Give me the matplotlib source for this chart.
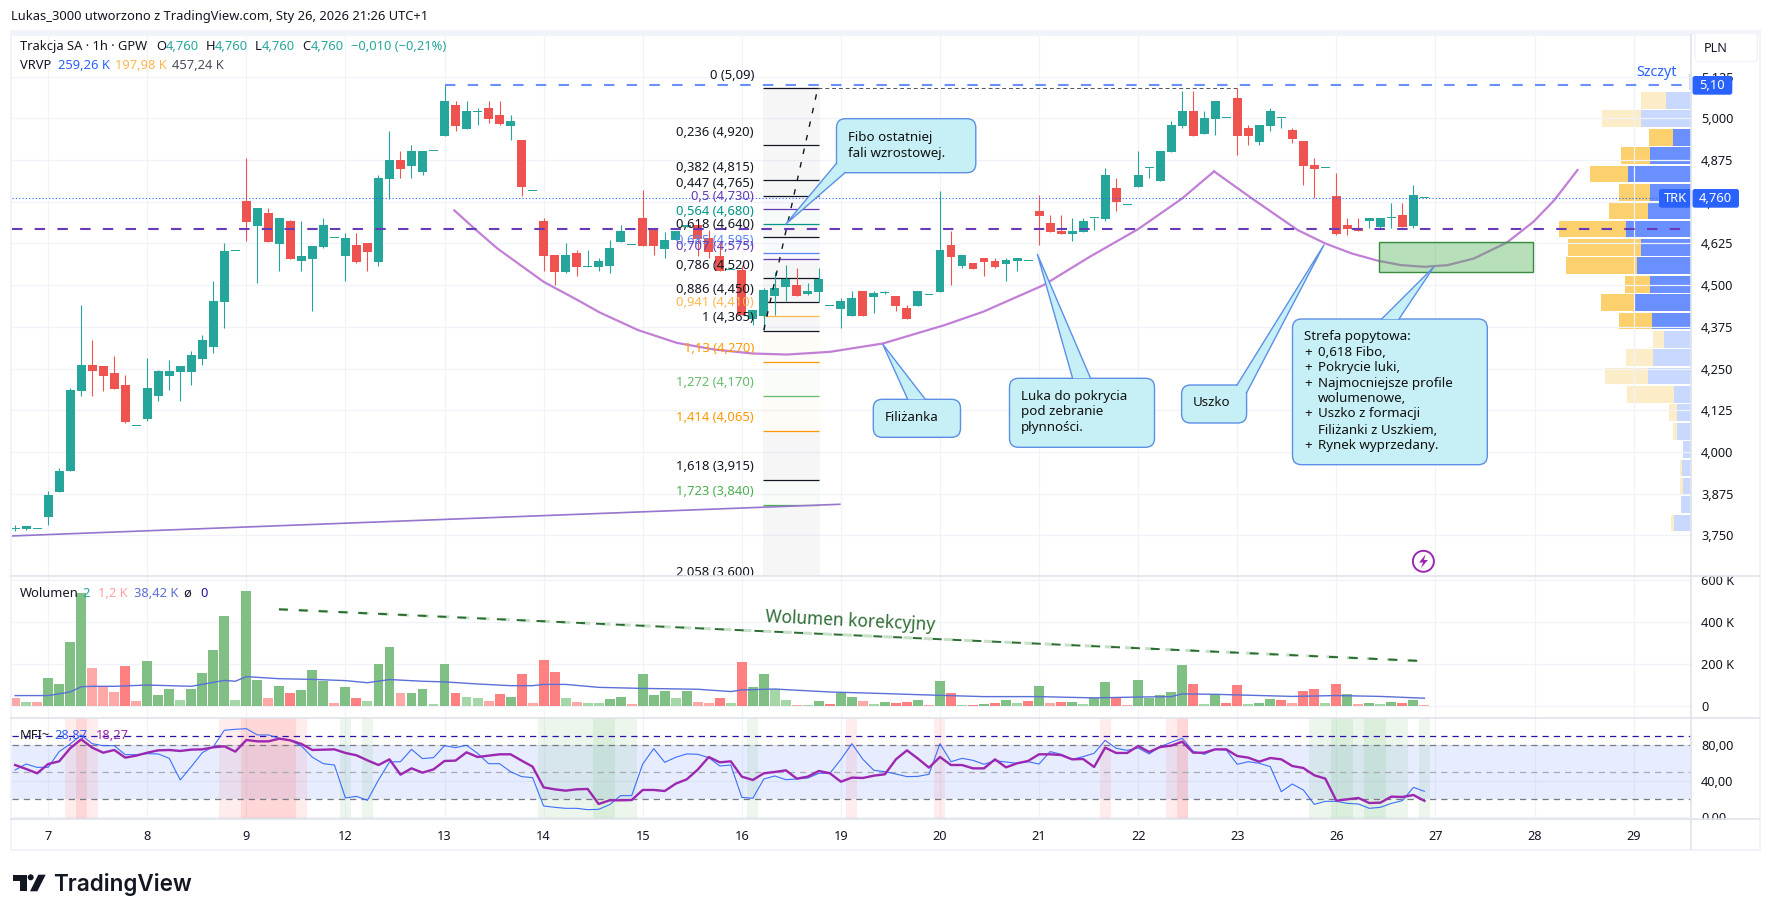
import numpy as np
import matplotlib
matplotlib.use("Agg")
import matplotlib.pyplot as plt
from matplotlib.patches import FancyBboxPatch, Polygon, Rectangle, Circle

plt.rcParams['font.family'] = ['Noto Sans', 'DejaVu Sans']

W, H = 1772, 916

# ---- data ----
bars = np.arange(-3, 126)

opens = [3.770, 3.768, 3.770,
         3.804, 3.879, 3.942, 4.182, 4.260, 4.257, 4.236, 4.200, 4.079,
         4.098, 4.167, 4.227, 4.239, 4.239, 4.278, 4.314, 4.449, 4.601,
         4.752, 4.677, 4.716, 4.623, 4.692, 4.572, 4.578, 4.614, 4.640,
         4.587, 4.620, 4.626, 4.569, 4.818, 4.875, 4.857, 4.839, 4.901,
         4.947, 5.040, 4.968, 5.020, 5.031, 5.010, 4.977, 4.935, 4.781,
         4.691, 4.590, 4.539, 4.596, 4.554, 4.554, 4.557, 4.629, 4.619,
         4.701, 4.668, 4.608, 4.635, 4.675, 4.680, 4.641, 4.587, 4.545,
         4.545, 4.400, 4.407, 4.467, 4.495, 4.500, 4.473, 4.480, 4.438,
         4.428, 4.407, 4.482, 4.464, 4.476, 4.467, 4.431, 4.437, 4.469,
         4.479, 4.620, 4.557, 4.566, 4.581, 4.572, 4.563, 4.572, 4.571,
         4.722, 4.686, 4.662, 4.653, 4.659, 4.700, 4.698, 4.791, 4.739,
         4.794, 4.850, 4.812, 4.899, 4.977, 5.022, 4.953, 4.998, 5.000,
         5.061, 4.971, 4.929, 4.977, 5.000, 4.965, 4.932, 4.860, 4.850,
         4.767, 4.680, 4.671, 4.692, 4.674, 4.700, 4.710, 4.677, 4.760]
closes = [3.770, 3.777, 3.770,
          3.870, 3.942, 4.185, 4.260, 4.242, 4.227, 4.188, 4.089, 4.079,
          4.191, 4.242, 4.242, 4.257, 4.290, 4.335, 4.452, 4.602, 4.601,
          4.689, 4.731, 4.629, 4.701, 4.578, 4.587, 4.617, 4.680, 4.640,
          4.641, 4.569, 4.599, 4.821, 4.875, 4.848, 4.902, 4.902, 4.901,
          5.052, 4.977, 5.022, 5.022, 4.998, 4.983, 4.992, 4.794, 4.781,
          4.587, 4.539, 4.590, 4.554, 4.557, 4.572, 4.611, 4.662, 4.619,
          4.617, 4.617, 4.635, 4.662, 4.680, 4.638, 4.599, 4.542, 4.545,
          4.410, 4.425, 4.485, 4.490, 4.519, 4.467, 4.482, 4.519, 4.438,
          4.452, 4.461, 4.407, 4.476, 4.476, 4.437, 4.398, 4.482, 4.469,
          4.605, 4.584, 4.590, 4.548, 4.569, 4.554, 4.575, 4.581, 4.571,
          4.707, 4.659, 4.653, 4.662, 4.692, 4.700, 4.830, 4.749, 4.739,
          4.830, 4.850, 4.902, 4.980, 5.022, 4.947, 5.001, 5.052, 5.000,
          4.947, 4.947, 4.980, 5.022, 5.000, 4.938, 4.857, 4.848, 4.850,
          4.653, 4.668, 4.662, 4.701, 4.701, 4.700, 4.674, 4.770, 4.760]
highs = [3.780, 3.777, 3.770,
         3.882, 3.951, 4.191, 4.440, 4.335, 4.257, 4.287, 4.230, 4.079,
         4.281, 4.245, 4.275, 4.257, 4.302, 4.350, 4.512, 4.626, 4.601,
         4.881, 4.731, 4.731, 4.701, 4.695, 4.692, 4.617, 4.701, 4.640,
         4.656, 4.656, 4.626, 4.830, 4.962, 4.902, 4.920, 4.902, 4.901,
         5.100, 5.052, 5.052, 5.031, 5.052, 5.052, 5.010, 4.935, 4.781,
         4.701, 4.590, 4.626, 4.605, 4.605, 4.581, 4.635, 4.680, 4.619,
         4.785, 4.668, 4.660, 4.662, 4.680, 4.680, 4.665, 4.625, 4.545,
         4.560, 4.425, 4.490, 4.540, 4.560, 4.552, 4.507, 4.550, 4.438,
         4.461, 4.482, 4.482, 4.482, 4.482, 4.467, 4.440, 4.482, 4.469,
         4.782, 4.662, 4.590, 4.566, 4.581, 4.581, 4.581, 4.581, 4.571,
         4.770, 4.710, 4.710, 4.701, 4.701, 4.700, 4.851, 4.821, 4.739,
         4.902, 4.850, 4.902, 4.992, 5.082, 5.082, 5.022, 5.052, 5.000,
         5.091, 4.980, 4.980, 5.031, 5.000, 4.971, 4.932, 4.881, 4.850,
         4.836, 4.701, 4.701, 4.701, 4.701, 4.746, 4.746, 4.800, 4.760]
lows = [3.763, 3.765, 3.770,
        3.780, 3.879, 3.942, 4.167, 4.167, 4.182, 4.188, 4.086, 4.079,
        4.092, 4.152, 4.185, 4.152, 4.200, 4.260, 4.296, 4.371, 4.601,
        4.632, 4.506, 4.629, 4.542, 4.578, 4.542, 4.422, 4.611, 4.640,
        4.512, 4.566, 4.542, 4.557, 4.758, 4.821, 4.821, 4.830, 4.901,
        4.947, 4.962, 4.968, 4.980, 4.986, 4.980, 4.935, 4.767, 4.781,
        4.542, 4.500, 4.536, 4.527, 4.554, 4.542, 4.536, 4.629, 4.619,
        4.617, 4.590, 4.581, 4.635, 4.675, 4.587, 4.581, 4.542, 4.545,
        4.410, 4.380, 4.365, 4.410, 4.452, 4.467, 4.470, 4.450, 4.438,
        4.371, 4.407, 4.407, 4.416, 4.473, 4.422, 4.398, 4.437, 4.469,
        4.479, 4.500, 4.551, 4.548, 4.527, 4.551, 4.512, 4.542, 4.571,
        4.620, 4.659, 4.653, 4.632, 4.659, 4.665, 4.692, 4.722, 4.739,
        4.794, 4.821, 4.812, 4.899, 4.971, 4.947, 4.953, 4.950, 5.000,
        4.890, 4.920, 4.920, 4.962, 4.971, 4.926, 4.800, 4.761, 4.850,
        4.650, 4.650, 4.662, 4.671, 4.668, 4.671, 4.674, 4.671, 4.760]

# volume in thousands, with the tint of each bar
volumes = [40, 21, 21,
           135, 106, 305, 538, 182, 93, 68, 192, 25,
           215, 54, 82, 30, 82, 158, 268, 429, 30,
           548, 125, 40, 97, 63, 78, 173, 120, 16,
           92, 40, 25, 201, 282, 63, 63, 82, 11,
           201, 63, 44, 40, 25, 59, 44, 154, 16,
           220, 163, 40, 21, 16, 16, 35, 44, 11,
           154, 54, 73, 40, 73, 21, 16, 40, 16,
           211, 92, 154, 82, 30, 6, 6, 25, 11,
           63, 44, 25, 11, 21, 16, 21, 30, 6,
           120, 63, 6, 6, 11, 16, 30, 16, 25,
           97, 16, 21, 21, 11, 40, 116, 40, 6,
           125, 40, 54, 68, 196, 106, 11, 54, 16,
           101, 11, 16, 35, 30, 16, 73, 82, 16,
           106, 59, 11, 16, 11, 21, 16, 30, 6]
vol_tints = ("plp"
             "ggggpppRp".replace("R", "r") +
             "gggl" "ggggl" +
             "ggpgrgggp" +
             "grlggpggl" +
             "grllprgrp" +
             "rrlpllggp" +
             "gggl" "gpprl" +
             "rggllplgr" +
             "ggplgrrgp" +
             "grlrgrglr" +
             "gprglggrp" +
             "gggggrlgr" +
             "rlggrprrl" +
             "rgpglgrgp")

vol_ma_bars = [-3, 0, 2, 3, 4, 6, 9, 13, 16, 17, 18, 21, 24, 27, 29, 31, 34, 36, 39, 42, 44, 45, 47, 50,
               54, 59, 62, 63, 66, 71, 75, 81, 85, 90, 95, 99, 102, 103, 106, 108, 113, 117, 121, 125]
vol_ma = [51, 51, 68, 93, 95, 95, 101, 95, 123, 119, 141, 131, 128, 122, 112, 127, 119, 116, 106, 98, 98, 104, 104, 90,
          85, 81, 70, 78, 82, 68, 62, 52, 46, 46, 40, 44, 46, 59, 57, 54, 47, 51, 47, 38.4]

rsi_line = [52.6, 59.2, 55.5,
            55.5, 73.0, 81.5, 91.5, 81.8, 79.6, 79.6, 69.6, 69.6,
            70.7, 70.4, 65.5, 41.5, 56.3, 71.8, 78.5, 96.7, 97.8,
            98.5, 91.5, 91.5, 87.8, 85.2, 79.2, 66.7, 59.6, 58.1,
            21.5, 23.3, 18.9, 41.5, 61.5, 61.8, 75.5, 65.2, 66.3,
            79.6, 77.4, 80.0, 71.1, 59.6, 59.6, 50.7, 45.2, 44.1,
            12.6, 11.1, 10.0, 10.0, 8.5, 8.9, 14.1, 24.1, 24.1,
            59.2, 76.3, 61.1, 66.7, 70.4, 70.0, 66.3, 57.0, 58.1,
            22.2, 21.1, 42.6, 45.9, 41.8, 42.6, 43.7, 48.9, 48.9,
            64.4, 81.8, 64.4, 52.2, 50.7, 48.1, 45.2, 45.5, 47.8,
            81.8, 61.8, 65.5, 63.3, 58.9, 62.9, 61.5, 60.0, 61.8,
            59.2, 73.0, 70.0, 64.4, 67.4, 71.1, 85.5, 76.7, 74.4,
            77.0, 70.4, 78.5, 83.3, 87.8, 73.3, 70.0, 75.5, 74.8,
            58.9, 61.8, 60.0, 56.3, 28.5, 37.0, 30.4, 14.4, 17.8,
            17.8, 15.5, 14.8, 10.0, 11.1, 15.5, 18.5, 33.3, 28.9]
mfi_line = [58.1, 53.7, 48.9,
            59.2, 62.2, 76.7, 86.6, 77.4, 71.8, 74.8, 66.3, 68.5,
            71.8, 74.4, 74.8, 73.7, 75.2, 75.5, 77.8, 78.9, 73.0,
            85.9, 84.4, 84.4, 87.4, 85.5, 81.5, 74.8, 75.2, 75.5,
            71.5, 68.9, 63.3, 58.1, 64.4, 47.4, 54.4, 49.6, 53.3,
            62.6, 63.0, 72.2, 67.0, 68.5, 70.0, 70.0, 63.0, 56.3,
            33.3, 31.1, 29.6, 31.1, 31.5, 14.8, 18.9, 18.9, 19.2,
            30.4, 30.4, 29.2, 37.4, 42.2, 53.0, 67.0, 61.1, 62.2,
            45.2, 41.5, 48.9, 50.4, 52.2, 43.0, 45.2, 51.5, 48.9,
            39.6, 44.1, 43.7, 46.3, 47.8, 64.4, 74.4, 65.2, 55.2,
            67.0, 58.1, 58.1, 54.4, 54.4, 64.4, 55.5, 60.0, 62.6,
            70.0, 70.0, 69.2, 64.4, 64.8, 55.9, 77.4, 71.5, 71.5,
            79.2, 72.6, 78.1, 79.6, 84.0, 71.8, 71.8, 75.5, 75.5,
            68.1, 66.3, 61.8, 65.9, 64.4, 57.0, 54.8, 46.7, 43.0,
            18.5, 20.0, 21.5, 15.9, 16.3, 23.0, 22.6, 24.8, 18.3]

# bars where the pane is tinted, two layers each
red_light = [2, 3, 4, 16, 17, 18, 19, 20, 21, 22, 23, 73, 81, 96, 102, 103]
red_dark = [3, 18, 19, 20, 21, 22, 103]
green_light = [27, 29, 45, 46, 47, 48, 49, 50, 51, 52, 53, 64, 115, 116, 117, 118, 119, 120, 121, 122, 123, 125]
green_dark = [50, 51, 117, 118, 120, 121]

# volume profile rows, top to bottom, thousands
vp_up = [0.6, 8.2, 16.2, 6.0, 13.4, 20.5, 13.4, 14.0, 21.2, 16.2, 17.6, 13.4, 18.6,
         12.8, 8.8, 12.4, 14.0, 5.6, 4.6, 4.6, 2.7, 3.0, 2.7, 3.3, 5.6]
vp_down = [0, 8.1, 12.6, 7.7, 9.4, 12.4, 10.0, 12.6, 21.7, 23.7, 22.9, 8.1, 10.7,
           10.7, 3.6, 8.8, 13.9, 15.3, 2.6, 1.4, 0, 0.6, 0.9, 0, 1.0]
vp_solid = [False, False, False, True, True, True, True, True, True, True, True, True, True,
            True, False, False, False, False, False, False, False, False, False, False, False]

fib_ratio = ["0", "0,236", "0,382", "0,447", "0,5", "0,564", "0,618", "0,685", "0,707", "0,786",
             "0,886", "0,941", "1", "1,13", "1,272", "1,414", "1,618", "1,723", "2,058"]
fib_label = ["5,09", "4,920", "4,815", "4,765", "4,730", "4,680", "4,640", "4,595", "4,575", "4,520",
             "4,450", "4,410", "4,365", "4,270", "4,170", "4,065", "3,915", "3,840", "3,600"]
fib_price = [5.09, 4.919, 4.814, 4.766, 4.727, 4.682, 4.643, 4.595, 4.577, 4.520,
             4.448, 4.409, 4.364, 4.271, 4.169, 4.064, 3.917, 3.842, 3.600]
fib_color = ["#131722", "#131722", "#131722", "#131722", "#673AB7", "#009688", "#131722", "#5B86F7", "#673AB7", "#131722",
             "#131722", "#FFB74D", "#131722", "#FF9800", "#66BB6A", "#FF9800", "#131722", "#4CAF50", "#131722"]

cup_bars = [36.9, 38.7, 40.8, 45.0, 48.1, 50.1, 53.6, 57.1, 60.5, 64.0, 67.1, 71.0, 75.8,
            81.4, 84.9, 90.4, 94.6, 99.0, 103.0, 104.6, 105.9]
cup_price = [4.724, 4.670, 4.610, 4.510, 4.455, 4.418, 4.365, 4.327, 4.307, 4.295, 4.292, 4.300, 4.325,
             4.380, 4.420, 4.500, 4.585, 4.668, 4.760, 4.805, 4.841]
ear_bars = [105.9, 109.2, 113.5, 116.0, 118.4, 120.8, 122.9, 125.0, 127.1, 129.5, 132.5, 134.9, 136.8, 138.9]
ear_price = [4.841, 4.763, 4.665, 4.625, 4.595, 4.573, 4.560, 4.555, 4.560, 4.580, 4.628, 4.690, 4.755, 4.845]

day_ticks = [0, 9, 18, 27, 36, 45, 54, 63, 72, 81, 90, 99, 108, 117, 126, 135, 144]
day_labels = ["7", "8", "9", "12", "13", "14", "15", "16", "19", "20", "21", "22", "23", "26", "27", "28", "29"]
price_ticks = [3.75, 3.875, 4.0, 4.125, 4.25, 4.375, 4.5, 4.625, 4.75, 4.875, 5.0, 5.125, 5.25]
price_labels = ["3,750", "3,875", "4,000", "4,125", "4,250", "4,375", "4,500", "4,625", "4,750", "4,875", "5,000", "5,125", ""]

GREEN = "#26A69A"
RED = "#EF5350"
GRID = "#F0F3FA"
SEP = "#E0E3EB"
TXT = "#131722"
BLUE = "#2962FF"
TINT = {"g": "#81C084", "l": "#A5D6A7", "r": "#FF8080", "p": "#FFA8A8"}


def pane(top, bottom, left=11.5, right=1691.3):
    return fig.add_axes([left / W, 1 - bottom / H, (right - left) / W, (bottom - top) / H])


fig = plt.figure(figsize=(W / 100, H / 100), dpi=100, facecolor="white")

ax = pane(35, 576)
ax_vol = pane(576, 718.3)
ax_mfi = pane(718.3, 819.3)

XLIM = (-3.33, 149.24)
for a in (ax, ax_vol, ax_mfi):
    a.set_xlim(*XLIM)
    a.set_xticks(day_ticks)
    a.tick_params(axis="both", length=0, labelsize=9.2, labelcolor=TXT)
    a.grid(True, color=GRID, lw=0.9)
    a.set_axisbelow(True)
    a.yaxis.tick_right()
    a.tick_params(axis="y", pad=7)
    for s in a.spines.values():
        s.set_visible(False)
    if a is not ax_mfi:
        a.set_xticklabels([])
ax_mfi.set_xticklabels(day_labels)
ax_mfi.tick_params(axis="x", pad=8)
for lab in ax_mfi.get_xticklabels():
    if lab.get_text() in ("12", "26"):
        lab.set_fontweight("bold")

# ---- price pane ----
ax.set_ylim(3.628, 5.249)
ax.set_yticks(price_ticks)
ax.set_yticklabels(price_labels)
ax.set_zorder(3)
ax.patch.set_visible(False)

# volume profile sits behind the candles, anchored on the price scale
ax_vp = ax.twiny()
ax_vp.set_zorder(2)
ax_vp.set_xlim(544.3, 0)
ax_vp.axis("off")
ax_under = fig.add_axes(ax.get_position(), zorder=1)
ax_under.axis("off")
row_step = 0.0551
vp_center = 5.109 - row_step * np.arange(len(vp_up))
vp_up = np.array(vp_up)
vp_down = np.array(vp_down)
for c, u, d, solid in zip(vp_center, vp_up, vp_down, vp_solid):
    ax_vp.barh(c, u, height=0.05, color="#6A8FFF" if solid else "#C9D8FE", lw=0)
    ax_vp.barh(c, d, left=u, height=0.05, color="#FCD06C" if solid else "#FDECC8", lw=0)

# fib block
fib_x0, fib_x1 = 64.9, 70.0
for i in range(1, len(fib_price)):
    ax.fill_between([fib_x0, fib_x1 + 0.1], fib_price[i - 1], fib_price[i],
                    color=fib_color[i], alpha=0.035, lw=0, zorder=1)
for p, r, l, c in zip(fib_price, fib_ratio, fib_label, fib_color):
    if p > 3.62:
        ax.plot([fib_x0, fib_x1], [p, p], color=c, lw=0.9, zorder=2, solid_capstyle="butt")
    ax.annotate("%s (%s)" % (r, l), (fib_x0, p), xytext=(-6.2, 9.3), textcoords="offset points",
                ha="right", va="center", fontsize=9.35, color=c, zorder=6, annotation_clip=False, clip_on=True)

# candles
for b, o, h, l, c in zip(bars, opens, highs, lows, closes):
    col = GREEN if c >= o else RED
    ax.plot([b, b], [l, h], color=col, lw=0.8, zorder=3, solid_capstyle="butt")
    ax.bar(b, max(abs(c - o), 0.003), bottom=min(o, c), width=0.81, color=col, lw=0, zorder=3)

# horizontal levels and drawings
ax.plot([36, 149.24], [5.10, 5.10], color="#6A8FFF", lw=1.5, ls=(0, (5, 5.9)), zorder=5, dash_capstyle="butt")
ax.axhline(4.668, color="#673AB7", lw=1.5, ls=(0, (5, 5.9)), zorder=5, dash_capstyle="butt")
ax.axhline(4.760, color=BLUE, lw=0.8, ls=(0, (1, 2)), zorder=5)
ax.plot([69.9, 108], [5.09, 5.09], color="#555555", lw=0.7, ls=(0, (4, 3)), zorder=4)
ax.plot([65.0, 69.9], [4.365, 5.09], color="#131722", lw=1.0, ls=(0, (4, 6)), zorder=4)
ax.plot([-3.33, 71.9], [3.748, 3.843], color="#9575CD", lw=1.2, zorder=5)
ax.plot(cup_bars, cup_price, color="#C27FD6", lw=1.6, zorder=4, solid_joinstyle="round")
ax.plot(ear_bars, ear_price, color="#C27FD6", lw=1.6, zorder=4, solid_joinstyle="round")
ax.add_patch(Rectangle((120.9, 4.538), 14.0, 0.09, facecolor="#4CAF50", alpha=0.4, lw=0, zorder=5))
ax.add_patch(Rectangle((120.9, 4.538), 14.0, 0.09, fill=False, edgecolor="#388E3C", lw=1.0, zorder=5))

# ---- volume pane ----
ax_vol.set_ylim(-57, 619)
ax_vol.set_yticks([0, 200, 400, 600])
ax_vol.set_yticklabels(["0", "200 K", "400 K", "600 K"])
ax_vol.bar(bars, volumes, width=0.9, color=[TINT[t] for t in vol_tints], lw=0, zorder=2)
ax_vol.plot(vol_ma_bars, vol_ma, color="#5B6FD8", lw=1.0, zorder=3)
ax_vol.plot([20.96, 124.8], [460.8, 215], color="#C8E0C8", lw=2.2, ls=(0, (3.0, 3.6)), zorder=3, dash_capstyle="butt")
ax_vol.plot([20.96, 124.8], [460.8, 215], color="#2A6B30", lw=1.4, ls=(0, (4.6, 5.6)), zorder=3, dash_capstyle="butt")

# ---- MFI pane ----
ax_mfi.set_ylim(-2.2, 110)
ax_mfi.set_yticks([0, 40, 80])
ax_mfi.set_yticklabels(["0,00", "40,00", "80,00"])
ax_mfi.axhspan(20, 80, color="#2962FF", alpha=0.11, lw=0, zorder=1)
for blist, col, al in ((red_light, "#FF5252", 0.1), (red_dark, "#FF5252", 0.14),
                       (green_light, "#4CAF50", 0.1), (green_dark, "#4CAF50", 0.1)):
    for b in blist:
        ax_mfi.axvspan(b - 0.5, b + 0.5, color=col, alpha=al, lw=0, zorder=1)
ax_mfi.axhline(90, color="#2A0FA8", lw=0.9, ls=(0, (5, 4)), zorder=2)
ax_mfi.axhline(80, color="#787B86", lw=0.9, ls=(0, (5, 4)), zorder=2)
ax_mfi.axhline(50, color="#A8ABB5", lw=0.9, ls=(0, (5, 4)), zorder=2)
ax_mfi.axhline(20, color="#787B86", lw=0.9, ls=(0, (5, 4)), zorder=2)
ax_mfi.plot(bars, rsi_line, color="#2962FF", lw=0.8, zorder=3, alpha=0.9)
ax_mfi.plot(bars, mfi_line, color="#9C27B0", lw=1.7, zorder=4)

# ---- everything laid over the panes, in picture pixels ----
ov = fig.add_axes([0, 0, 1, 1], zorder=10)
ov.set_xlim(0, W)
ov.set_ylim(H, 0)
ov.axis("off")

# white masks clip the half cut scale labels
ov.add_patch(Rectangle((1693, 560), 64, 15.5, color="white", lw=0))
ov.add_patch(Rectangle((1693, 820), 64, 8, color="white", lw=0))

# frame
ov.add_patch(Rectangle((10.3, 30), 1750, 5, color=GRID, lw=0))
ov.add_patch(Rectangle((10.3, 30), 1.4, 821, color=GRID, lw=0))
ov.add_patch(Rectangle((10.3, 849.3), 1750, 1.6, color=GRID, lw=0))
ov.add_patch(Rectangle((1759.4, 30), 1.4, 821, color=GRID, lw=0))
ov.plot([11.5, 1759], [576, 576], color=SEP, lw=1.2)
ov.plot([11.5, 1759], [718.3, 718.3], color=SEP, lw=1.2)
ov.plot([11.5, 1759], [819.3, 819.3], color=SEP, lw=1.2)
ov.plot([1691.3, 1691.3], [35, 849], color=SEP, lw=1.2)

ov.text(11, 16.7, "Lukas_3000 utworzono z TradingView.com, Sty 26, 2026 21:26 UTC+1",
        fontsize=9.3, color=TXT, va="center")


def tx(x, y, s, col=TXT, size=9.3, **kw):
    return ov.text(x, y, s, color=col, fontsize=size, va="center", **kw)


# legends
tx(20, 46.7, "Trakcja SA · 1h · GPW")
for x, s in ((156, "O"), (206, "H"), (255, "L"), (302, "C")):
    tx(x, 46.7, s)
for x, s in ((165.7, "4,760"), (214.7, "4,760"), (262, "4,760"), (310.7, "4,760"), (351, "−0,010 (−0,21%)")):
    tx(x, 46.7, s, GREEN)
tx(20, 65.7, "VRVP")
tx(58, 65.7, "259,26 K", BLUE)
tx(115, 65.7, "197,98 K", "#FFB74D")
tx(172, 65.7, "457,24 K", "#4A4E59")
tx(20, 593.3, "Wolumen")
tx(82, 593.3, "2", GREEN)
tx(97.6, 593.3, "1,2 K", "#FFA0A0")
tx(133.6, 593.3, "38,42 K", "#5B6FD8")
tx(183.7, 593.3, "ø")
tx(200, 593.3, "0", "#2A0FA8")
tx(20, 735.7, "MFI~")
tx(54.7, 735.7, "28,87", BLUE)
tx(95.7, 735.7, "18,27", "#9C27B0")

# scale badges
ov.add_patch(FancyBboxPatch((1692.5, 76), 39.8, 18.7, boxstyle="round,pad=0,rounding_size=2.5", fc=BLUE, lw=0))
tx(1712.4, 85.2, "5,10", "white", ha="center", fontweight="medium")
ov.add_patch(FancyBboxPatch((1692.5, 189), 46.5, 18.7, boxstyle="round,pad=0,rounding_size=2.5", fc=BLUE, lw=0))
tx(1715.7, 198, "4,760", "white", ha="center", fontweight="medium")
ov.add_patch(FancyBboxPatch((1659, 189), 32.3, 18.7, boxstyle="round,pad=0,rounding_size=2.5", fc=BLUE, lw=0))
tx(1675, 198.5, "TRK", "white", ha="center")
ov.add_patch(FancyBboxPatch((1695, 33), 62.5, 28.7, boxstyle="round,pad=0,rounding_size=4", fc="white", ec=GRID, lw=1.0))
tx(1716, 48, "PLN", TXT, ha="center", size=9)
tx(1636, 72, "Szczyt", BLUE, size=10.3)

ov.text(850.7, 620.8, "Wolumen korekcyjny", color="#2E6B32", fontsize=12.4, rotation=-2.8,
        ha="center", va="center", rotation_mode="anchor", fontweight="medium")


# callouts
def callout(box, tip, base1, base2):
    x0, y0, x1, y1 = box
    fc, ec = "#C7F0F6", "#5C8FE6"
    ov.add_patch(Polygon([tip, base1, base2], closed=True, fc=fc, lw=0))
    ov.add_patch(FancyBboxPatch((x0, y0), x1 - x0, y1 - y0, boxstyle="round,pad=0,rounding_size=9",
                                fc=fc, ec=ec, lw=1.0))
    ov.add_patch(Polygon([tip, base1, base2], closed=True, fc=fc, lw=0))
    ov.plot([base1[0], tip[0], base2[0]], [base1[1], tip[1], base2[1]], color=ec, lw=1.0)


def note(x, y, s):
    ov.text(x, y, s, color="#111111", fontsize=9.6, fontweight="semibold", va="center")


callout((836.5, 118.7, 975.8, 172.7), (785.6, 224.3), (836.5, 163.3), (845, 172.7))
note(848, 137, "Fibo ostatniej")
note(848, 153, "fali wzrostowej.")
callout((873.3, 399.3, 960.5, 437.3), (882.8, 344.3), (907.7, 399.3), (925.3, 399.3))
note(885, 417.7, "Filiżanka")
callout((1009.5, 378.3, 1154.5, 447.3), (1037.4, 254.3), (1072.6, 378.3), (1090.6, 378.3))
note(1021, 396.7, "Luka do pokrycia")
note(1021, 412, "pod zebranie")
note(1021, 427.7, "płynności.")
callout((1181.6, 385, 1246.6, 423), (1323.9, 245), (1237, 385), (1246.6, 392.7))
note(1193, 402.7, "Uszko")
callout((1292.5, 319, 1487.3, 464.7), (1433.8, 267), (1381.7, 319), (1399, 319))
note(1304, 336.7, "Strefa popytowa:")
for y, s in ((352.7, "0,618 Fibo,"), (368, "Pokrycie luki,"), (384, "Najmocniejsze profile"), (399, "wolumenowe,"),
             (414, "Uszko z formacji"), (430, "Filiżanki z Uszkiem,"), (445, "Rynek wyprzedany.")):
    note(1318, y, s)
for y in (352.7, 368, 384, 414, 445):
    note(1304, y, "+")

# lightning mark
ov.add_patch(Circle((1423.4, 561.3), 10.5, fc="white", ec="#9C27B0", lw=1.4))
ov.add_patch(Polygon([(1425.5, 554.5), (1419, 562.5), (1423, 562.5), (1421, 568), (1428, 560), (1424, 560)],
                     closed=True, fc="#9C27B0", lw=0))

# logo
ov.add_patch(Polygon([(13.3, 874.7), (27.3, 874.7), (27.3, 891.3), (20, 891.3), (20, 880.7), (13.3, 880.7)],
                     closed=True, fc=TXT, lw=0))
ov.add_patch(Circle((30.7, 877.3), 3, fc=TXT, lw=0))
ov.add_patch(Polygon([(38.3, 874.7), (45.7, 874.7), (37.3, 891.3), (30, 891.3)], closed=True, fc=TXT, lw=0))
ov.text(53.3, 891.3, "TradingView", color=TXT, fontsize=16.2, fontweight="semibold", va="baseline", family="Inter")

fig.savefig("out.png", dpi=100)
